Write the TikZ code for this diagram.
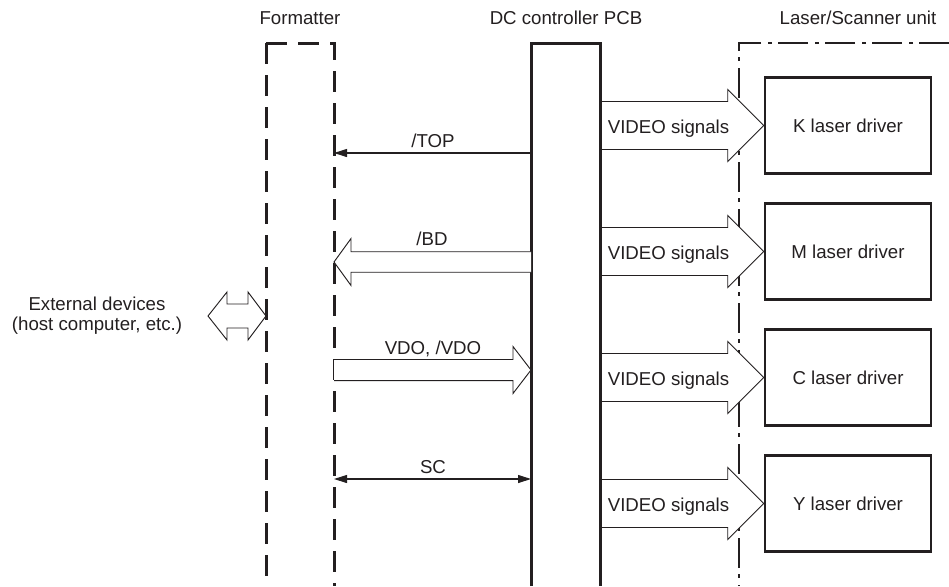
\documentclass[tikz,border=0pt]{standalone}
\usepackage{fontspec}
\setmainfont{Liberation Sans}
\usetikzlibrary{arrows.meta,calc}
\definecolor{ink}{HTML}{231F20}
\newcommand{\fatarrow}[5]{% start, tip, shaft half, head half, head length (signed)
  \path[hollow] let \p1=(#1), \p2=(#2) in
    (\x1,\y2+#3) -- (\x2-#5,\y2+#3) -- (\x2-#5,\y2+#4) -- (\x2,\y2)
    -- (\x2-#5,\y2-#4) -- (\x2-#5,\y2-#3) -- (\x1,\y2-#3);}
\begin{document}
\begin{tikzpicture}[x=0.75pt,y=-0.75pt,
  font=\fontsize{14}{17}\selectfont, color=ink,
  >={Triangle[length=9.75pt,width=6pt]},
  fmt/.style={line width=2.25pt, dash pattern=on 15.75pt off 8.25pt},
  pcb/.style={line width=2.25pt},
  laser/.style={line width=1.7pt, dash pattern=on 22.5pt off 4.5pt on 3pt off 5.25pt},
  driver/.style={draw, line width=1.9pt, minimum width=124.5pt, minimum height=72pt, inner sep=0pt},
  sig/.style={line width=0.8pt},
  hollow/.style={draw=ink, line width=0.7pt, fill=white},
  lbl/.style={anchor=base, inner sep=0pt}]
\useasboundingbox (0,0) rectangle (949,586);

% titles
\node[lbl] (tf) at (300,24) {Formatter};
\node[lbl] (tp) at (566,24) {DC controller PCB};
\node[lbl] (tl) at (858,24) {Laser/Scanner unit};

% frame corners
\coordinate (fL) at (266,43);
\coordinate (fR) at (334,43);
\coordinate (pL) at (531,43);
\coordinate (pR) at (600,43);
\coordinate (lL) at (739,43);

% formatter (dashed, open at bottom)
\draw[fmt] (fL) -- (fL |- 0,586);
\draw[fmt] (fL) -- (fR) -- (fR |- 0,586);
% laser/scanner unit (dash-dot)
\draw[laser] (949,43) -- (lL) -- (lL |- 0,586);

% laser drivers
\node[driver] (K) at (848,125.5) {K laser driver};
\node[driver] (M) at (848,251.5) {M laser driver};
\node[driver] (C) at (848,377.5) {C laser driver};
\node[driver] (Y) at (848,503.5) {Y laser driver};

% VIDEO arrows
\foreach \d in {K,M,C,Y}{
  \fatarrow{pR |- \d.west}{\d.west}{18pt}{27pt}{27pt}
  \node[lbl] at ($(pR |- \d.west)!0.5!(728,0 |- \d.west)+(4.5,8)$) {VIDEO signals};
}

% DC controller PCB (open at bottom)
\draw[pcb] (pL |- 0,586) -- (pL) -- (pR) -- (pR |- 0,586);

% signal y levels
\coordinate (yTOP) at (0,153);
\coordinate (yBD) at (0,262);
\coordinate (yVDO) at (0,370);
\coordinate (ySC) at (0,479);
\coordinate (yEXT) at (0,316);

% /TOP
\draw[sig, ->] (pL |- yTOP) -- (fR |- yTOP);
\node[lbl] at (433,147) {/TOP};
% /BD
\fatarrow{pL |- yBD}{fR |- yBD}{7.7pt}{17.6pt}{-12.75pt}
\node[lbl] at (432,245) {/BD};
% VDO, /VDO
\fatarrow{fR |- yVDO}{pL |- yVDO}{7.9pt}{17.6pt}{13.5pt}
\node[lbl] at (433,354) {VDO, /VDO};
% SC
\draw[sig, <->] (fR |- ySC) -- (pL |- ySC);
\node[lbl] at (433,473) {SC};

% external devices
\coordinate (eL) at (208,316);
\path[hollow] let \p1=(eL), \p2=(fL |- yEXT) in
  (\x1,\y1) -- (\x1+14.25pt,\y1+18pt) -- (\x1+14.25pt,\y1+9pt) -- (\x2-13.5pt,\y1+9pt)
  -- (\x2-13.5pt,\y1+18pt) -- (\x2,\y1) -- (\x2-13.5pt,\y1-18pt) -- (\x2-13.5pt,\y1-9pt)
  -- (\x1+14.25pt,\y1-9pt) -- (\x1+14.25pt,\y1-18pt) -- cycle;
\node[lbl] (ext) at (97,310) {External devices};
\node[lbl] (ext2) at (97,330) {(host computer, etc.)};
\end{tikzpicture}
\end{document}
